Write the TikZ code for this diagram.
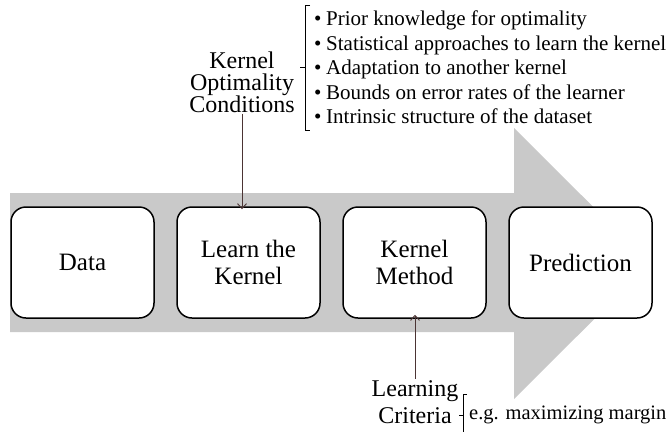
\documentclass[tikz,border=0pt]{standalone}
\usepackage{fontspec}
\setmainfont{Liberation Serif}
\usetikzlibrary{arrows.meta}
\definecolor{flowgray}{RGB}{201,201,201}
\definecolor{linkbrown}{RGB}{75,52,52}
\tikzset{
  stage/.style={draw, line width=1.5pt, fill=white, rounded corners=15pt,
    minimum width=143pt, minimum height=111pt, align=center,
    font=\fontsize{25}{27}\selectfont},
  link/.style={-{Straight Barb[length=5pt, width=9pt]}, linkbrown, line width=0.9pt},
  brace/.style={line width=0.8pt}
}
\begin{document}
\begin{tikzpicture}[x=1pt, y=-1pt]
            \useasboundingbox (0, 0) rectangle (671, 432);

            \fill[flowgray] (10, 193) -- (514, 193) -- (514, 128) -- (650, 263.5)
                -- (514, 399) -- (514, 332) -- (10, 332) -- cycle;

            \node[stage] (data) at (82.5, 262.5) {Data};
            \node[stage] (learn) at (248.5, 262.5) {Learn the\\Kernel};
            \node[stage] (method) at (414.5, 262.5) {Kernel\\Method};
            \node[stage] (predict) at (580.5, 262.5) {Prediction};

            \node[align=center, font=\fontsize{24}{22}\selectfont] (kcond) at (242, 82)
                {Kernel\\Optimality\\Conditions};
            \draw[link] (kcond.south) ++(0, -2) coordinate (kc) -- ([yshift=-3pt]kc |- learn.north);

            \node[anchor=north west, align=left, inner sep=0pt,
                  font=\fontsize{21}{24.5}\selectfont] (items) at (314, 11) {%
                \makebox[12pt][l]{\textbullet}Prior knowledge for optimality\\
                \makebox[12pt][l]{\textbullet}Statistical approaches to learn the kernel\\
                \makebox[12pt][l]{\textbullet}Adaptation to another kernel\\
                \makebox[12pt][l]{\textbullet}Bounds on error rates of the learner\\
                \makebox[12pt][l]{\textbullet}Intrinsic structure of the dataset};
            \draw[brace] (310, 5) -- (305, 5) -- (305, 130) -- (310, 130);
            \draw[brace] (305, 67.5) -- (300, 67.5);

            \node[align=center, font=\fontsize{24}{27}\selectfont] (lcrit) at (415, 402)
                {Learning\\Criteria};
            \draw[link] (lcrit.north) ++(0, 2) coordinate (lc) -- ([yshift=4pt]lc |- method.south);

            \node[anchor=west, inner sep=0pt, font=\fontsize{20.5}{24}\selectfont] (margin)
                at (469, 415) {e.g. maximizing margin};
            \draw[brace] (467, 394) -- (463, 394) -- (463, 432);
            \draw[brace] (463, 415) -- (459, 415);
\end{tikzpicture}
\end{document}
